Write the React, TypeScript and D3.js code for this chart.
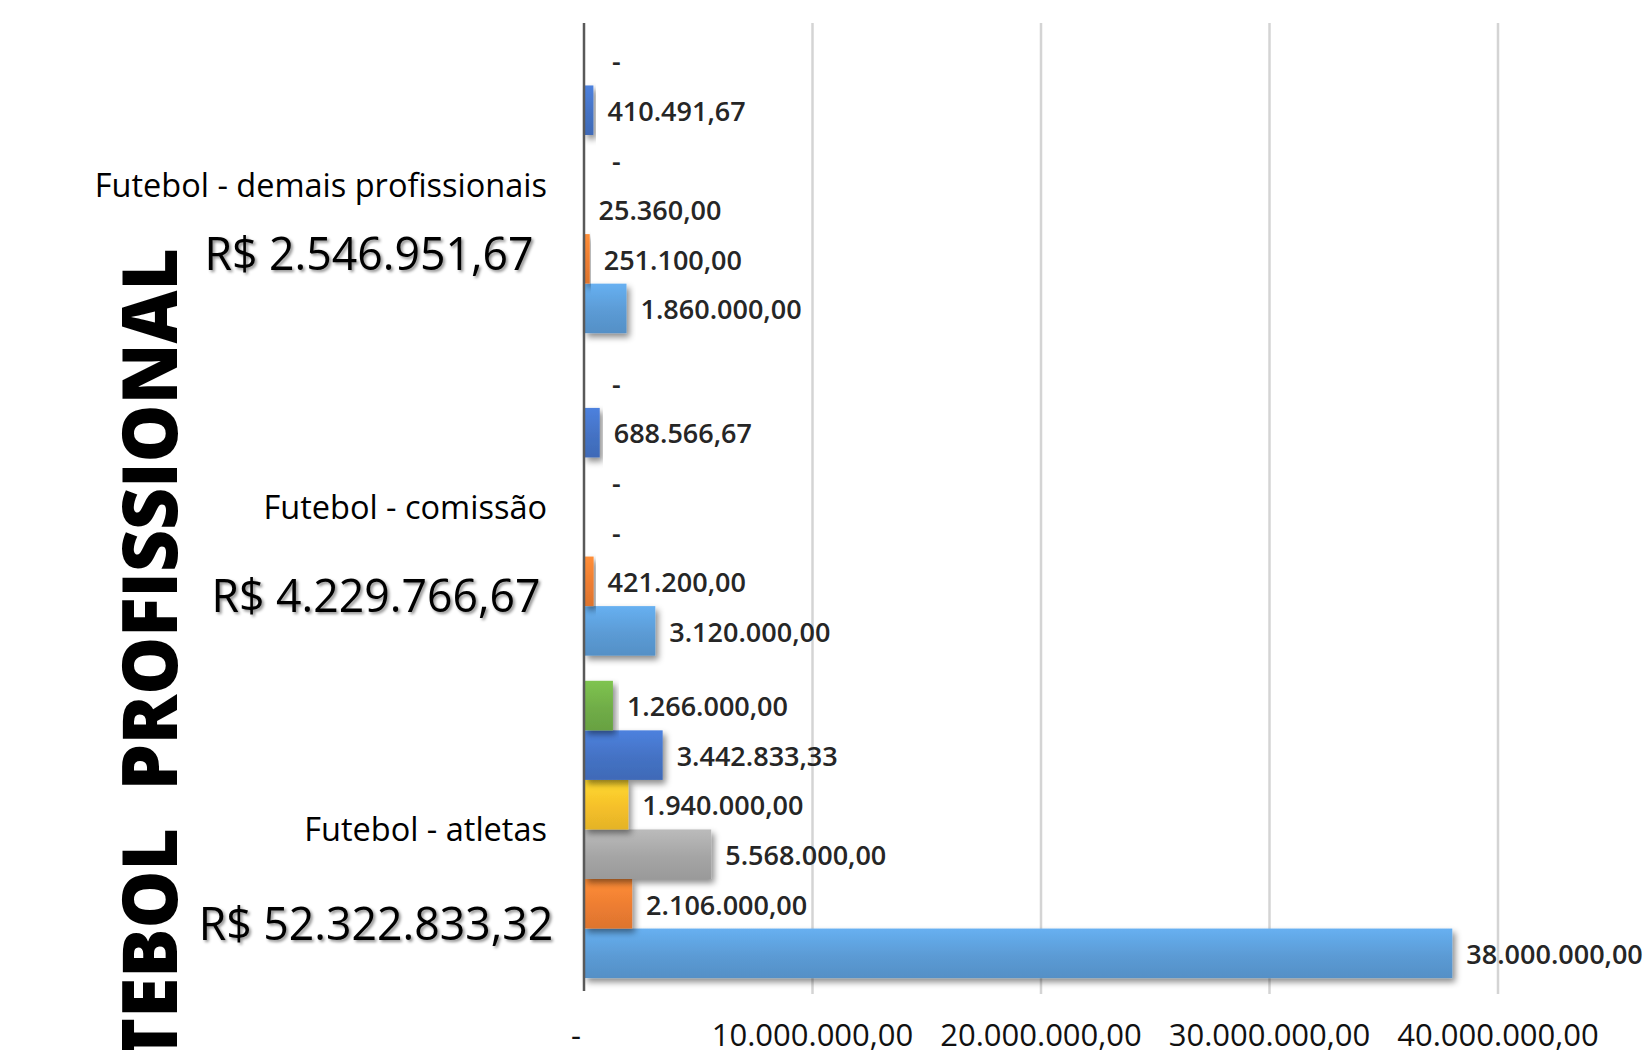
import React from 'react';
import * as d3 from 'd3';

// ---- data ----
const categories = ['Futebol - atletas', 'Futebol - comissão', 'Futebol - demais profissionais'];
const seriesColors = ['#5B9BD5', '#ED7D31', '#A5A5A5', '#F5C02A', '#4472C4', '#70AD47'];
const atletas = [38000000, 2106000, 5568000, 1940000, 3442833.33, 1266000];
const comissao = [3120000, 421200, 0, 0, 688566.67, 0];
const demais = [1860000, 251100, 25360, 0, 410491.67, 0];
const totals = ['R$ 52.322.833,32', 'R$ 4.229.766,67', 'R$ 2.546.951,67'];
const xTicks = [0, 10000000, 20000000, 30000000, 40000000];
const titleWords = ['FUTEBOL', 'PROFISSIONAL'];

const valuesByCategory = [atletas, comissao, demais];

// layout (annotation text-box offsets below each category centre)
const W = 1644;
const H = 1050;
const plot = { left: 584, right: 1498, top: 23, bottom: 991 };
const totalBoxOffset = [111, 105, 85];
const totalBoxX = [376, 376, 369];

const locale = d3.formatLocale({ decimal: ',', thousands: '.', grouping: [3], currency: ['R$ ', ''] });
const fmt = locale.format(',.2f');
const label = (v: number) => (v === 0 ? '-' : fmt(v));

export default function App() {
  const x = d3.scaleLinear().domain([0, 40000000]).range([plot.left, plot.right]);
  const y = d3
    .scaleBand<string>()
    .domain(categories)
    .range([plot.bottom, plot.top])
    .paddingInner(0.078)
    .paddingOuter(0.04);
  const inner = d3
    .scaleBand<number>()
    .domain(d3.range(seriesColors.length))
    .range([y.bandwidth(), 0]);

  const titleScale = 0.96;

  return (
    <svg
      width={W}
      height={H}
      style={{ position: 'absolute', left: 0, top: 0, background: '#fff' }}
      fontFamily="'Open Sans', 'Noto Sans', sans-serif"
    >
      <defs>
        {seriesColors.map((c, i) => {
          const top = d3.color(c)!.brighter(0.35).formatHex();
          const bot = d3.color(c)!.darker(0.2).formatHex();
          return (
            <linearGradient key={i} id={`g${i}`} x1="0" y1="0" x2="0" y2="1">
              <stop offset="0%" stopColor={top} />
              <stop offset="55%" stopColor={c} />
              <stop offset="100%" stopColor={bot} />
            </linearGradient>
          );
        })}
        <filter id="barShadow" x="-20%" y="-20%" width="140%" height="160%">
          <feDropShadow dx="3" dy="4" stdDeviation="3" floodColor="#000" floodOpacity="0.45" />
        </filter>
        <filter id="txtShadow" x="-10%" y="-30%" width="120%" height="160%">
          <feDropShadow dx="2" dy="2" stdDeviation="1.5" floodColor="#000" floodOpacity="0.45" />
        </filter>
      </defs>

      {/* gridlines */}
      {xTicks.slice(1).map((t) => (
        <line key={t} x1={x(t)} x2={x(t)} y1={plot.top} y2={plot.bottom + 3} stroke="#d4d4d4" strokeWidth={2.5} />
      ))}

      {/* bars */}
      {categories.map((cat, ci) =>
        valuesByCategory[ci].map((v, si) => {
          const by = (y(cat) as number) + (inner(si) as number);
          const w = x(v) - x(0);
          return v > 0 ? (
            <rect
              key={`${ci}-${si}`}
              x={x(0)}
              y={by}
              width={Math.max(w, 0.8)}
              height={inner.bandwidth()}
              fill={`url(#g${si})`}
              filter="url(#barShadow)"
            />
          ) : null;
        })
      )}

      {/* value axis line */}
      <line x1={plot.left} x2={plot.left} y1={plot.top} y2={plot.bottom} stroke="#595959" strokeWidth={2.5} />

      {/* data labels */}
      {categories.map((cat, ci) =>
        valuesByCategory[ci].map((v, si) => {
          const cy = (y(cat) as number) + (inner(si) as number) + inner.bandwidth() / 2;
          const lx = v === 0 ? x(0) + 28 : x(v) + 14;
          return (
            <text
              key={`l${ci}-${si}`}
              x={lx}
              y={cy}
              dy="0.4em"
              fontSize={27}
              fontWeight={600}
              fill="#262626"
            >
              {label(v)}
            </text>
          );
        })
      )}

      {/* x tick labels */}
      {xTicks.map((t) => (
        <text key={`t${t}`} x={t === 0 ? x(t) - 8 : x(t)} y={1046} fontSize={31} textAnchor="middle" fill="#111">
          {label(t)}
        </text>
      ))}

      {/* category labels */}
      {categories.map((cat) => {
        const cy = (y(cat) as number) + y.bandwidth() / 2;
        return (
          <text key={cat} x={547} y={cy + 12} textAnchor="end" fontSize={32.5} fill="#000">
            {cat}
          </text>
        );
      })}

      {/* totals */}
      {categories.map((cat, ci) => {
        const cy = (y(cat) as number) + y.bandwidth() / 2;
        return (
          <g key={`tot${cat}`} transform={`translate(${totalBoxX[ci]}, ${cy + totalBoxOffset[ci]}) scale(0.97,1)`}>
            <text textAnchor="middle" fontSize={46} fill="#000" filter="url(#txtShadow)">
              {totals[ci]}
            </text>
          </g>
        );
      })}

      {/* big vertical title */}
      <g transform={`translate(177, 248) rotate(-90) scale(${titleScale},1)`}>
        <text textAnchor="end" x={0} fontSize={76} fontWeight={800} fill="#000">
          {titleWords[1]}
        </text>
        <text textAnchor="end" x={-580 / titleScale} fontSize={76} fontWeight={800} fill="#000">
          {titleWords[0]}
        </text>
      </g>
    </svg>
  );
}
